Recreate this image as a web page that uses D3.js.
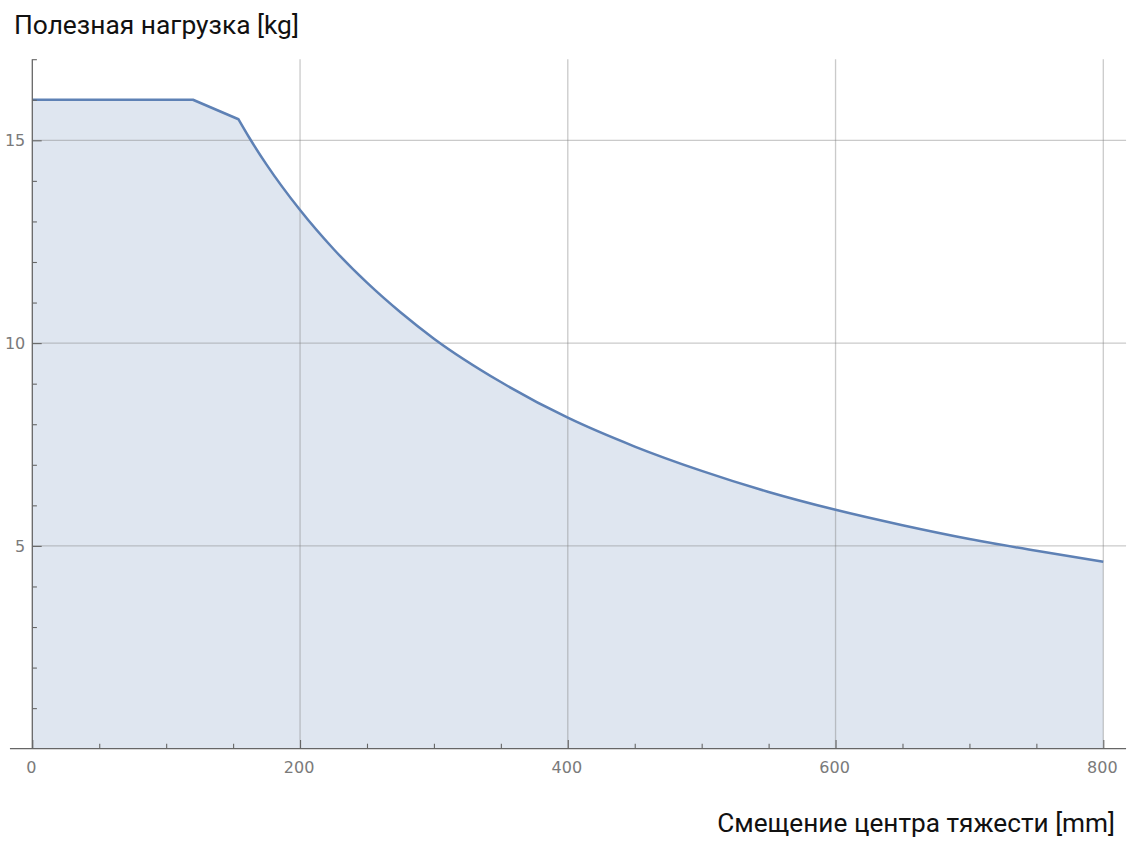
<!DOCTYPE html>
<html>
<head>
<meta charset="utf-8">
<script src="https://cdn.jsdelivr.net/npm/d3@7"></script>
<style>
  html, body { margin: 0; padding: 0; background: #fff; }
  svg { display: block; }
</style>
</head>
<body>
<svg id="chart" width="1127" height="841"></svg>
<script>
// ---- data ----
const plateauX = [0, 120, 154];
const plateauY = [16, 16, 15.52];
const curveX = [154, 162, 175, 200, 225, 250, 275, 300, 350, 400, 450, 500, 550, 600, 650, 700, 750, 800];
const curveY = [15.52, 15.07, 14.40, 13.28, 12.32, 11.49, 10.76, 10.11, 9.04, 8.16, 7.45, 6.85, 6.33, 5.89, 5.51, 5.17, 4.88, 4.61];
const xMajorTicks = [0, 200, 400, 600, 800];
const xMinorTicks = [50, 100, 150, 250, 300, 350, 450, 500, 550, 650, 700, 750];
const yMajorTicks = [5, 10, 15];
const yMinorTicks = [1, 2, 3, 4, 6, 7, 8, 9, 11, 12, 13, 14, 16, 17];
const yTitle = "Полезная нагрузка [kg]";
const xTitle = "Смещение центра тяжести [mm]";

// ---- layout ----
const svg = d3.select("#chart");
const x = d3.scaleLinear().domain([0, 800]).range([32.3, 1103.3]);
const y = d3.scaleLinear().domain([0, 17]).range([748.7, 59.2]);
const xFull = [-16.7, 817];

const lineColor = "#5e81b5";
const fillColor = "#dfe6f0";
const gridColor = "rgba(128,128,128,0.42)";
const axisColor = "#666";
const labelColor = "#7a7a7a";

// ---- area fill ----
const plateau = plateauX.map((d, i) => [d, plateauY[i]]);
const curve = curveX.map((d, i) => [d, curveY[i]]);
const linLine = d3.line().x(d => x(d[0])).y(d => y(d[1]));
const monoLine = d3.line().x(d => x(d[0])).y(d => y(d[1])).curve(d3.curveMonotoneX);
const topPath = linLine(plateau) + monoLine(curve).replace(/^M/, "L");
const last = curve[curve.length - 1];
const areaPath = topPath + "L" + x(last[0]) + "," + y(0) + "L" + x(0) + "," + y(0) + "Z";

svg.append("path").attr("d", areaPath).attr("fill", fillColor).attr("stroke", "none");

// ---- grid ----
const grid = svg.append("g");
grid.selectAll("line.v").data(xMajorTicks.filter(d => d > 0)).join("line")
  .attr("x1", d => x(d)).attr("x2", d => x(d))
  .attr("y1", y(0)).attr("y2", y(17))
  .attr("stroke", gridColor).attr("stroke-width", 1.3);
grid.selectAll("line.h").data(yMajorTicks).join("line")
  .attr("y1", d => y(d)).attr("y2", d => y(d))
  .attr("x1", x(0)).attr("x2", x(xFull[1]))
  .attr("stroke", gridColor).attr("stroke-width", 1.3);

// ---- the line ----
svg.append("path").attr("d", topPath).attr("fill", "none")
  .attr("stroke", lineColor).attr("stroke-width", 2.5).attr("stroke-linejoin", "round");

// ---- axes ----
const font = "'DejaVu Sans', sans-serif";
const xAxisMajor = d3.axisBottom(x).tickValues(xMajorTicks).tickSize(-8.7).tickPadding(13.2).tickFormat(d3.format("d"));
const xAxisMinor = d3.axisBottom(x).tickValues(xMinorTicks).tickSize(-5).tickFormat("");
const yAxisMajor = d3.axisLeft(y).tickValues(yMajorTicks).tickSize(-9.4).tickPadding(7).tickFormat(d3.format("d"));
const yAxisMinor = d3.axisLeft(y).tickValues(yMinorTicks).tickSize(-4.6).tickFormat("");

function styleAxis(g) {
  g.select(".domain").remove();
  g.selectAll(".tick line").attr("stroke", axisColor).attr("stroke-width", 1.1);
  g.selectAll(".tick text").attr("fill", labelColor).style("font-family", font).style("font-size", "16px");
}

svg.append("g").attr("transform", `translate(0,${y(0)})`).call(xAxisMinor).call(styleAxis);
const gx = svg.append("g").attr("transform", `translate(0,${y(0)})`).call(xAxisMajor).call(styleAxis);
gx.selectAll(".tick text").attr("dx", "-1.5");
svg.append("g").attr("transform", `translate(${x(0)},0)`).call(yAxisMinor).call(styleAxis);
svg.append("g").attr("transform", `translate(${x(0)},0)`).call(yAxisMajor).call(styleAxis);

// axis lines
svg.append("line").attr("x1", x(xFull[0])).attr("x2", x(xFull[1]))
  .attr("y1", y(0)).attr("y2", y(0)).attr("stroke", axisColor).attr("stroke-width", 1.3);
svg.append("line").attr("x1", x(0)).attr("x2", x(0))
  .attr("y1", y(0)).attr("y2", y(17)).attr("stroke", axisColor).attr("stroke-width", 1.3);

// ---- titles ----
const titleFont = "Roboto, 'Noto Sans', sans-serif";
function fitText(sel, targetWidth, baseSize) {
  const w = sel.node().getComputedTextLength();
  if (w > 0) sel.style("font-size", (baseSize * targetWidth / w).toFixed(2) + "px");
}
const t1 = svg.append("text").attr("x", 14).attr("y", 33.5).text(yTitle)
  .attr("fill", "#111").style("font-family", titleFont).style("font-size", "24px");
fitText(t1, 285, 24);
const t2 = svg.append("text").attr("x", 1115).attr("y", 832).attr("text-anchor", "end").text(xTitle)
  .attr("fill", "#111").style("font-family", titleFont).style("font-size", "24px");
fitText(t2, 398, 24);
</script>
</body>
</html>
